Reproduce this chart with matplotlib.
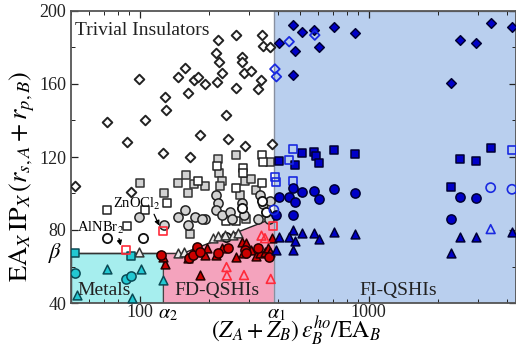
import matplotlib
matplotlib.use('Agg')
import matplotlib.pyplot as plt
from matplotlib.patches import Polygon, Rectangle
import matplotlib.ticker as mticker
import matplotlib.transforms as mtrans

plt.rcParams['font.family'] = ['Liberation Serif', 'DejaVu Serif']
plt.rcParams['mathtext.fontset'] = 'stix'

# ---------------- data ----------------
XMIN, XMAX = 50, 4400
YMIN, YMAX = 40, 200
alpha2, alpha1, beta = 126, 385, 67.6
diag_x0, diag_y1 = 157, 86.6

# trivial insulators
diam_x = [72, 99, 105, 129, 130, 146, 158, 163, 172, 179, 192, 218, 220, 216, 222, 228, 237, 264, 264,
          279, 280, 285, 307, 327, 338, 340, 346, 372, 88, 126, 165, 184, 242, 288, 376, 52, 91]
diam_y = [139, 163, 140, 153, 146, 164, 169, 155, 162, 164, 160, 161, 184, 177, 172, 166, 143, 158, 187,
          175, 172, 166, 167, 157, 162, 187, 181, 180, 128, 122, 120, 132, 130, 126, 127, 104, 101]
sqg_x = [100, 128, 147, 159, 163, 173, 192, 220, 222, 228, 224, 263, 287, 307, 370, 323, 165, 292, 273]
sqg_y = [106, 100, 106, 110, 100, 105, 104, 119, 111, 107, 104, 121, 107, 108, 117, 102, 78, 86, 99]
sqw_x = [131, 180, 218, 281, 283, 340, 346, 340, 264, 72, 88, 105, 239, 264]
sqw_y = [95, 107, 115, 114, 111, 121, 117, 106, 103, 91, 82, 91, 85, 85]
cg_x = [99, 127, 147, 157, 163, 174, 192, 216, 220, 216, 228, 247, 252, 278, 285, 329, 334, 346, 370, 367, 186]
cg_y = [87, 83, 87, 91, 83, 87, 86, 99, 95, 91, 88, 90, 86, 95, 88, 86, 99, 94, 96, 86, 86]
cw_x = [103, 72, 239, 278, 340, 355]
cw_y = [75.5, 75.5, 76, 92, 96, 90]
tw_x = [99, 146, 156, 209, 220, 235, 256, 269]
tw_y = [68, 67.6, 68, 75.5, 76.7, 77.3, 77.3, 78.5]

# metals
cys_x = [52, 91]
cys_y = [67.6, 65.6]
cyc_x = [52, 87, 91]
cyc_y = [56.4, 53, 54.6]
cyt_x = [72, 101, 53, 92, 126]
cyt_y = [58.5, 58.6, 44.4, 43, 52.6]

# FD-QSHIs
rft_x = [129, 126, 163, 171, 192, 196, 216, 228, 264, 278, 283, 307, 323, 334, 352, 363, 376, 370, 183, 292]
rft_y = [61.4, 65.4, 64.5, 68.1, 66.3, 70, 66.3, 70, 65.4, 73.6, 67.2, 69, 65.8, 67.2, 68.1, 70, 75.5, 68.1, 55.3, 72.7]
rfc_x = [124, 164, 171, 177, 183, 243, 287, 292, 329, 367, 220]
rfc_y = [66.3, 64.8, 66.3, 70.8, 68.1, 70, 69, 67.2, 70, 65.4, 67.2]
rot_x = [239, 240, 285, 373, 340, 352]
rot_y = [59.7, 55.1, 55.3, 53.2, 76.9, 75.5]
ros_x = [126, 87, 380]
ros_y = [79.5, 69, 82.4]

# FI-QSHIs
bfd_x = [406, 467, 511, 475, 577, 607, 703, 871, 467, 2296, 2497, 2953, 3410, 4225]
bfd_y = [182.3, 192.3, 188.3, 178.2, 189.6, 180.4, 191.1, 187.8, 164.9, 160.4, 184.1, 182.3, 193.3, 191.4]
bod_x = [449, 581, 389, 395]
bod_y = [183.2, 186.8, 168.2, 164]
bfs_x = [406, 511, 577, 587, 475, 607, 703, 871, 2296, 2497, 2953, 3410]
bfs_y = [118, 122, 122.6, 120.7, 115.6, 116.9, 123.8, 121.6, 103.7, 118.9, 117.8, 125.1]
bos_x = [467, 449, 389, 395, 467, 4225]
bos_y = [124.4, 118.4, 109.2, 106.5, 106.8, 123.8]
bfc_x = [406, 449, 467, 475, 511, 577, 607, 703, 871, 395, 467, 2296, 2497, 2953]
bfc_y = [98.3, 97.9, 102.8, 95.5, 100.7, 101.5, 96.8, 102.3, 100.4, 88.2, 88.2, 86, 98.2, 97.4]
boc_x = [3410, 4225, 385]
boc_y = [103.2, 102.3, 91]
bft_x = [406, 467, 449, 475, 511, 577, 607, 703, 871, 2497, 2953, 4225, 395, 467, 2296]
bft_y = [76.3, 80, 76.3, 74.1, 78.2, 78.2, 75.1, 79.1, 77.8, 76.3, 76, 79.1, 69, 69, 67.2]
bot_x = [3410]
bot_y = [80.5]

# ---------------- figure ----------------
W, H = 516, 349
fig = plt.figure(figsize=(W / 100, H / 100), dpi=100)
ax = fig.add_axes([71/W, 1-303/H, 1-71/W, (303-11)/H])
ax.set_xscale('log')
ax.set_xlim(XMIN, XMAX)
ax.set_ylim(YMIN, YMAX)

cyan_bg = '#a6eeee'
pink_bg = '#f4a3bd'
blue_bg = '#b9cfee'
ax.add_patch(Rectangle((XMIN, YMIN), alpha2 - XMIN, beta - YMIN, facecolor=cyan_bg,
                       edgecolor='#333333', lw=1.0, zorder=0))
ax.add_patch(Polygon([(alpha2, YMIN), (alpha1, YMIN), (alpha1, diag_y1), (diag_x0, beta), (alpha2, beta)],
                     closed=True, facecolor=pink_bg, edgecolor='none', zorder=0))
ax.add_patch(Rectangle((alpha1, YMIN), XMAX * 2 - alpha1, YMAX - YMIN, facecolor=blue_bg,
                       edgecolor='#8890a0', lw=1.0, zorder=0))
ax.plot([XMIN, diag_x0], [beta, beta], color='#333333', lw=1.0, zorder=1)
ax.plot([diag_x0, alpha1], [beta, diag_y1], color='#222222', lw=1.0, zorder=1)
ax.plot([alpha2, alpha2], [YMIN, beta], color='#444444', lw=0.8, zorder=1)


def pts(x, y, marker, face, edge, s, lw=1.1):
    ax.scatter(x, y, marker=marker, s=s, facecolors=face, edgecolors=edge, linewidths=lw, zorder=3)


gray = '#d2d2d2'
pts(diam_x, diam_y, 'D', 'white', '#222222', 24, 1.4)
pts(sqg_x, sqg_y, 's', gray, '#333333', 34)
pts(sqw_x, sqw_y, 's', 'white', '#222222', 34)
pts(cg_x, cg_y, 'o', gray, '#222222', 44)
pts(cw_x, cw_y, 'o', 'white', '#111111', 44, 1.3)
pts(tw_x, tw_y, '^', '#e8e8e8', '#333333', 40)

cy_face, cy_edge = '#22c8d2', '#0a4a55'
pts(cys_x, cys_y, 's', cy_face, cy_edge, 34)
pts(cyc_x, cyc_y, 'o', cy_face, cy_edge, 44)
pts(cyt_x, cyt_y, '^', cy_face, cy_edge, 40)

rd_face = '#cc0000'
pts(rft_x, rft_y, '^', rd_face, '#220000', 40)
pts(rfc_x, rfc_y, 'o', rd_face, '#220000', 44)
pts(rot_x, rot_y, '^', 'none', '#ff2a3a', 40, 1.2)
pts(ros_x, ros_y, 's', 'none', '#ff2a3a', 34, 1.2)

bl_face, bl_edge, bl_open = '#0000c8', '#000033', '#1a2ae0'
pts(bfd_x, bfd_y, 'D', bl_face, bl_edge, 24)
pts(bod_x, bod_y, 'D', 'none', bl_open, 24, 1.3)
pts(bfs_x, bfs_y, 's', bl_face, bl_edge, 34)
pts(bos_x, bos_y, 's', 'none', bl_open, 34, 1.2)
pts(bfc_x, bfc_y, 'o', bl_face, bl_edge, 44)
pts(boc_x, boc_y, 'o', 'none', bl_open, 44, 1.2)
pts(bft_x, bft_y, '^', bl_face, bl_edge, 40)
pts(bot_x, bot_y, '^', 'none', bl_open, 40, 1.2)

# region labels
ax.text(52, 189.5, 'Trivial Insulators', fontsize=14, ha='left', va='center', color='#222222', zorder=4)
ax.text(70, 47, 'Metals', fontsize=14, ha='center', va='center', color='#222222', zorder=4)
ax.text(218, 47, 'FD-QSHIs', fontsize=14, ha='center', va='center', color='#222222', zorder=4)
ax.text(1340, 47, 'FI-QSHIs', fontsize=14, ha='center', va='center', color='#222222', zorder=4)

# annotations
ax.text(97, 94.5, r'ZnOCl$_2$', fontsize=10.5, ha='center', va='center', zorder=4)
ax.annotate('', xy=(123, 81), xytext=(114, 90),
            arrowprops=dict(arrowstyle='-|>', color='black', lw=0.9, mutation_scale=7), zorder=4)
ax.text(67, 81.3, r'AlNBr$_2$', fontsize=10.5, ha='center', va='center', zorder=4)
ax.annotate('', xy=(83, 70), xytext=(80.5, 76.8),
            arrowprops=dict(arrowstyle='-|>', color='black', lw=0.9, mutation_scale=7), zorder=4)

# ticks
ax.set_xticks([100, 1000])
ax.set_xticklabels(['100', '1000'])
ax.xaxis.set_minor_locator(mticker.LogLocator(base=10, subs=range(2, 10), numticks=20))
ax.xaxis.set_minor_formatter(mticker.NullFormatter())
ax.set_yticks([40, 80, 120, 160, 200])
ax.yaxis.set_minor_locator(mticker.MultipleLocator(20))
ax.tick_params(which='both', direction='in', top=True, right=True, labelsize=13, colors='#222222')
ax.tick_params(axis='x', which='major', pad=1)
ax.tick_params(which='major', length=5, width=0.9)
ax.tick_params(which='minor', length=3, width=0.7)
for sp in ax.spines.values():
    sp.set_color('#555555')
    sp.set_linewidth(1.3)

bx = mtrans.blended_transform_factory(ax.transData, ax.transAxes)
by = mtrans.blended_transform_factory(ax.transAxes, ax.transData)
ax.text(alpha2 * 1.05, -0.005, r'$\alpha_2$', transform=bx, fontsize=14.5, ha='center', va='top')
ax.text(alpha1 * 1.03, -0.005, r'$\alpha_1$', transform=bx, fontsize=14.5, ha='center', va='top')
ax.text(-0.02, beta, r'$\beta$', transform=by, fontsize=16, ha='right', va='center')

fig.text(296 / W, 2 / H, r'$(Z_A+Z_B)\,\epsilon_B^{ho}/\mathrm{EA}_B$', fontsize=17,
         ha='center', va='bottom')
fig.text(22 / W, 1 - 176 / H, r'$\mathrm{EA}_X\,\mathrm{IP}_X\,(r_{s,A}+r_{p,B})$', fontsize=19,
         ha='center', va='center', rotation=90)

fig.savefig('out.png', dpi=100)
